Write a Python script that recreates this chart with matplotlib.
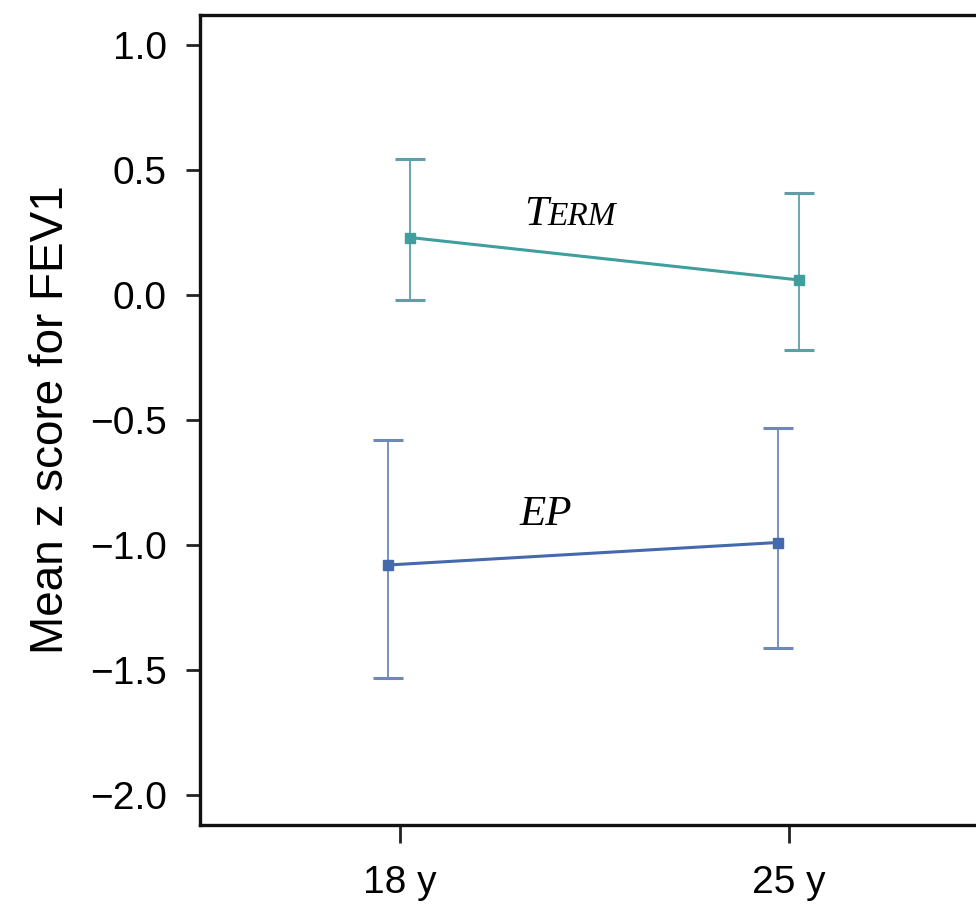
import matplotlib.pyplot as plt
from matplotlib import font_manager

# ages on the x axis and the two groups
ages = ['18 y', '25 y']
term_mean = [0.23, 0.06]
term_lo = [-0.02, -0.22]
term_hi = [0.545, 0.41]
ep_mean = [-1.08, -0.99]
ep_lo = [-1.53, -1.41]
ep_hi = [-0.58, -0.53]

yticks = [1.0, 0.5, 0.0, -0.5, -1.0, -1.5, -2.0]

TERM_COLOR = '#3f9e9e'
EP_COLOR = '#4569ad'

names = {f.name for f in font_manager.fontManager.ttflist}
sans = 'Liberation Sans Narrow' if 'Liberation Sans Narrow' in names else 'Liberation Sans'
plt.rcParams['font.family'] = [sans, 'DejaVu Sans']


def draw_group(ax, xs, mean, lo, hi, color, ecolor):
    yerr = [[m - l for m, l in zip(mean, lo)], [h - m for m, h in zip(mean, hi)]]
    ax.errorbar(xs, mean, yerr=yerr, fmt='none', ecolor=ecolor, elinewidth=1.3,
                capsize=11, capthick=2.2, zorder=2)
    ax.plot(xs, mean, color=color, linewidth=2.2, marker='s', markersize=7, zorder=3)


fig = plt.figure(figsize=(9.76, 9.13), dpi=100)
ax = fig.add_axes([200 / 976, 88 / 913, 780 / 976, 810 / 913])

xpos = list(range(len(ages)))
draw_group(ax, [x + 0.026 for x in xpos], term_mean, term_lo, term_hi, TERM_COLOR, '#5f9ea6')
draw_group(ax, [x - 0.03 for x in xpos], ep_mean, ep_lo, ep_hi, EP_COLOR, '#7088b8')

ax.set_xlim(-0.513, 1.49)
ax.set_ylim(-2.12, 1.12)
ax.set_xticks(xpos)
ax.set_xticklabels(ages)
ax.set_yticks(yticks)
ax.set_yticklabels(['%.1f' % v if v >= 0 else '\u2212%.1f' % -v for v in yticks])
ax.tick_params(axis='both', labelsize=28, width=2, color='#222222')
ax.tick_params(axis='x', length=13, pad=16)
ax.tick_params(axis='y', length=10, pad=14)
ax.set_ylabel('Mean z score for FEV1', fontsize=33, labelpad=12)

for side in ['left', 'bottom', 'top']:
    ax.spines[side].set_linewidth(2.4)
    ax.spines[side].set_color('#111111')
ax.spines['right'].set_visible(False)

serif = ['Liberation Serif', 'DejaVu Serif']
# small caps look for TERM: big T then smaller ERM
ax.text(0.38, 0.28, 'T', fontsize=31, style='italic', family=serif, ha='right', va='baseline')
ax.text(0.38, 0.28, 'ERM', fontsize=24, style='italic', family=serif, ha='left', va='baseline')
ax.text(0.375, -0.92, 'EP', fontsize=31, style='italic', family=serif, ha='center', va='baseline')

fig.savefig('out.png', dpi=100)
